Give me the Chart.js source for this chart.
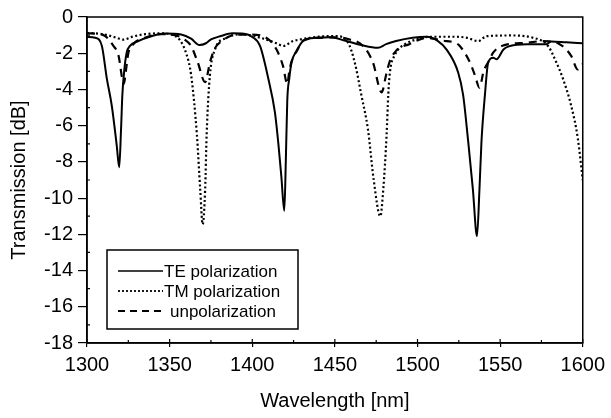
<!DOCTYPE html>
<html>
<head>
<meta charset="utf-8">
<script src="https://cdn.jsdelivr.net/npm/chart.js@4"></script>
<style>
    html, body { margin: 0; padding: 0; background: #fff; }
    #chart { display: block; }
</style>
</head>
<body>
<canvas id="chart" width="611" height="418"></canvas>
<script>
// wavelength samples (nm) and transmission (dB)
const teX = [1300, 1305, 1309, 1312, 1315, 1318, 1319.5, 1320.6, 1321.4, 1322.6, 1324, 1326, 1331, 1339, 1347, 1357, 1363, 1368, 1372, 1375, 1381, 1388, 1395, 1400, 1404.7, 1409.7, 1413.7, 1415.7, 1417.6, 1419.4, 1420.3, 1421.2, 1422.4, 1423.8, 1426.8, 1431, 1439, 1447, 1457, 1466, 1476, 1481, 1487, 1497, 1505.5, 1512, 1517.6, 1524.6, 1527.6, 1530.7, 1533.5, 1536, 1537.5, 1538.7, 1540.8, 1542.8, 1545.8, 1547.9, 1552, 1556, 1566, 1578, 1581, 1590, 1600];
const teY = [-1.1, -1.15, -1.6, -3.4, -4.9, -7.1, -8.3, -6.2, -4.3, -2.9, -1.97, -1.6, -1.33, -1.06, -0.91, -0.97, -1.2, -1.55, -1.45, -1.24, -1.05, -0.9, -0.92, -1.1, -1.6, -3.4, -5.25, -6.9, -8.8, -10.7, -8.0, -4.6, -3.4, -2.5, -1.87, -1.3, -1.15, -1.12, -1.33, -1.55, -1.7, -1.5, -1.33, -1.15, -1.09, -1.3, -1.8, -3.06, -4.3, -6.9, -9.5, -12.1, -9.5, -6.9, -4.3, -2.5, -2.25, -2.33, -1.79, -1.6, -1.5, -1.5, -1.35, -1.4, -1.45];

const tmX = [1300, 1310, 1318, 1322, 1327, 1335, 1345, 1352, 1356, 1360, 1363, 1366.5, 1368.5, 1370, 1371.5, 1372.4, 1374.4, 1377.4, 1384.5, 1393, 1405, 1414.7, 1418.8, 1424, 1429, 1435, 1445, 1451, 1458, 1462, 1466, 1470, 1473.5, 1477.5, 1479.3, 1481.3, 1482.3, 1483.3, 1486.3, 1492.4, 1499.4, 1507.5, 1523.5, 1530, 1536.7, 1541.8, 1556, 1570, 1579, 1584, 1588, 1593, 1597, 1600];
const tmY = [-0.88, -0.95, -1.15, -1.25, -1.1, -0.95, -0.9, -1.0, -1.25, -2.0, -3.2, -6.5, -9.5, -11.45, -9.5, -6.5, -3.2, -1.8, -1.15, -0.95, -1.15, -1.45, -1.6, -1.35, -1.24, -1.15, -1.06, -1.06, -1.42, -2.5, -4.3, -6.2, -9.0, -11.0, -9.5, -6.5, -4.3, -3.06, -2.1, -1.5, -1.24, -1.09, -1.09, -1.15, -1.33, -1.06, -1.02, -1.15, -1.6, -2.5, -3.4, -4.9, -6.7, -9.0];

const unX = [1300, 1310, 1316, 1319, 1322.3, 1323.5, 1325, 1328, 1335, 1345, 1355, 1359, 1363, 1367, 1371.5, 1374.4, 1377, 1382, 1390.5, 1400, 1410, 1414.7, 1418.6, 1421.2, 1422.4, 1424, 1427, 1431, 1440, 1450, 1459, 1467, 1473, 1478.3, 1481, 1483, 1487, 1495, 1505.5, 1515, 1522.6, 1525.6, 1531.7, 1534.7, 1537.5, 1540, 1542.8, 1545.8, 1551, 1566, 1576, 1586, 1593, 1597, 1600];
const unY = [-0.9, -1.0, -1.6, -2.1, -3.7, -3.0, -2.0, -1.5, -1.15, -0.95, -1.05, -1.24, -1.6, -2.5, -3.6, -2.5, -1.8, -1.3, -0.97, -0.97, -1.25, -1.8, -2.7, -3.7, -3.0, -2.4, -1.87, -1.3, -1.15, -1.12, -1.24, -1.6, -2.5, -4.16, -3.2, -2.5, -1.87, -1.5, -1.15, -1.3, -1.42, -1.6, -2.5, -3.2, -3.9, -3.0, -2.5, -1.97, -1.6, -1.42, -1.33, -1.5, -2.15, -2.9, -2.6];

const seriesNames = ['TE polarization', 'TM polarization', 'unpolarization'];
const xTicks = [1300, 1350, 1400, 1450, 1500, 1550, 1600];
const yTicks = [0, -2, -4, -6, -8, -10, -12, -14, -16, -18];

function pts(xs, ys) { return xs.map((x, i) => ({ x: x, y: ys[i] })); }

const FONT = 'Liberation Sans, Arial, sans-serif';

// frame, inward ticks and the boxed legend
const framePlugin = {
    id: 'frame',
    afterDraw(chart) {
        const ctx = chart.ctx;
        const a = chart.chartArea;
        const xs = chart.scales.x, ys = chart.scales.y;
        ctx.save();
        ctx.strokeStyle = '#000';
        ctx.lineWidth = 1.5;
        ctx.strokeRect(a.left, a.top, a.right - a.left, a.bottom - a.top);

        ctx.lineWidth = 1.2;
        ctx.beginPath();
        for (let v = 1300; v <= 1600; v += 25) {
            const px = xs.getPixelForValue(v);
            const len = v % 50 === 0 ? 4 : 3;
            ctx.moveTo(px, a.bottom); ctx.lineTo(px, a.bottom - len);
        }
        for (let v = -18; v <= 0; v += 1) {
            const py = ys.getPixelForValue(v);
            if (v % 2 !== 0) { ctx.moveTo(a.left, py); ctx.lineTo(a.left + 3, py); }
        }
        ctx.stroke();

        // legend
        const bx = 107, by = 250, bw = 191, bh = 79;
        ctx.fillStyle = '#fff';
        ctx.fillRect(bx, by, bw, bh);
        ctx.lineWidth = 1.5;
        ctx.strokeRect(bx, by, bw, bh);
        const dashes = [[], [2, 2], [7, 5]];
        const rows = [271, 291, 311];
        const textX = [164, 164, 170];
        ctx.font = '17px ' + FONT;
        ctx.textBaseline = 'middle';
        ctx.fillStyle = '#000';
        rows.forEach((ry, i) => {
            ctx.setLineDash(dashes[i]);
            ctx.lineWidth = i === 0 ? 1.6 : 1.8;
            ctx.beginPath();
            ctx.moveTo(118, ry); ctx.lineTo(163, ry);
            ctx.stroke();
            ctx.setLineDash([]);
            ctx.fillText(seriesNames[i], textX[i], ry + 1);
        });
        ctx.restore();
    }
};

new Chart(document.getElementById('chart').getContext('2d'), {
    type: 'line',
    data: {
        datasets: [
            { label: seriesNames[0], data: pts(teX, teY), borderColor: '#000', borderWidth: 2, pointRadius: 0, cubicInterpolationMode: 'monotone' },
            { label: seriesNames[1], data: pts(tmX, tmY), borderColor: '#000', borderWidth: 2.2, borderDash: [2, 2.5], pointRadius: 0, cubicInterpolationMode: 'monotone' },
            { label: seriesNames[2], data: pts(unX, unY), borderColor: '#000', borderWidth: 2.2, borderDash: [8, 6], pointRadius: 0, cubicInterpolationMode: 'monotone' }
        ]
    },
    options: {
        responsive: false,
        animation: false,
        devicePixelRatio: 1,
        layout: { padding: { left: 0, top: 14, right: 28, bottom: 0 } },
        plugins: { legend: { display: false }, tooltip: { enabled: false } },
        scales: {
            x: {
                type: 'linear', min: 1300, max: 1600,
                afterBuildTicks: s => { s.ticks = xTicks.map(v => ({ value: v })); },
                afterFit: s => { s.height = 75; },
                grid: { drawOnChartArea: false, tickLength: 4, color: '#000', lineWidth: 1.2 },
                border: { color: '#000', width: 1.5 },
                ticks: { color: '#000', font: { family: FONT, size: 20 }, padding: 6, maxRotation: 0, callback: v => String(v) },
                title: { display: true, text: 'Wavelength [nm]', color: '#000', font: { family: FONT, size: 20 }, padding: { top: 0, bottom: 5 } }
            },
            y: {
                type: 'linear', min: -18, max: 0,
                afterBuildTicks: s => { s.ticks = yTicks.map(v => ({ value: v })); },
                afterFit: s => { s.width = 87; },
                grid: { drawOnChartArea: false, tickLength: 9, color: '#000', lineWidth: 1.2 },
                border: { color: '#000', width: 1.5 },
                ticks: { color: '#000', font: { family: FONT, size: 20 }, padding: 5, callback: v => String(v) },
                title: { display: true, text: 'Transmission [dB]', color: '#000', font: { family: FONT, size: 20 }, padding: { top: 7, bottom: 0 } }
            }
        }
    },
    plugins: [framePlugin]
});
</script>
</body>
</html>
